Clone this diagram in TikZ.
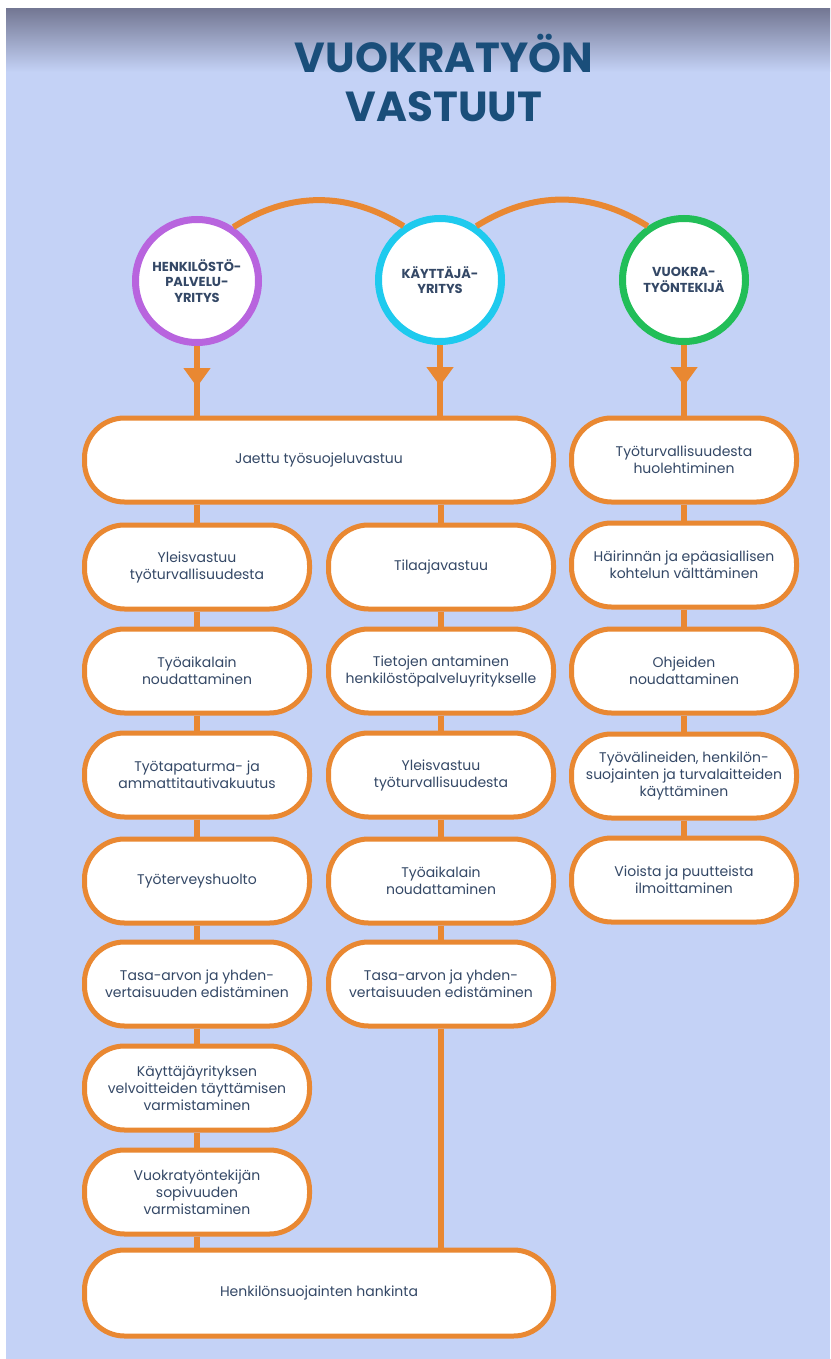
\documentclass[tikz,border=0pt]{standalone}
\usepackage{fontspec}
\setmainfont{Poppins}
\usetikzlibrary{arrows.meta, decorations.markings}

\definecolor{bgblue}{RGB}{196,210,246}
\definecolor{topgray}{RGB}{116,120,148}
\definecolor{linkorange}{RGB}{233,136,50}
\definecolor{titleblue}{RGB}{26,78,122}
\definecolor{textblue}{RGB}{52,72,102}
\definecolor{hpyviolet}{RGB}{184,100,222}
\definecolor{kaycyan}{RGB}{30,202,238}
\definecolor{vtkgreen}{RGB}{34,190,88}

\tikzset{
  box/.style={draw=linkorange, line width=5pt, fill=white, rounded corners=40pt,
    minimum width=225pt, minimum height=84pt, inner sep=2pt, align=center,
    text=textblue, font=\fontsize{14}{17}\selectfont},
  party/.style={circle, line width=7pt, fill=white, minimum size=123pt, inner sep=0pt,
    align=center, text=textblue, font=\fontsize{13}{15.5}\selectfont\bfseries},
  link/.style={linkorange, line width=6pt},
  drop/.style={link, postaction=decorate, decoration={markings,
    mark=at position 41pt with {\arrow{Triangle[width=26pt, length=19pt]}}}},
}

\begin{document}
\begin{tikzpicture}[x=1pt, y=-1pt]
    \useasboundingbox (0,0) rectangle (830,1359);
    \fill[white] (0,0) rectangle (830,1359);
    \fill[bgblue] (6,9) rectangle (830,1359);
    \shade[top color=topgray, bottom color=bgblue] (6,9) rectangle (830,72);

    \node[font=\fontsize{42}{49}\selectfont\bfseries, text=titleblue, align=center] (title) at (444,78) {VUOKRATYÖN\\VASTUUT};

    % osapuolet
    \node[party, draw=hpyviolet] (hpy) at (197,281) {HENKILÖSTÖ-\\PALVELU-\\YRITYS};
    \node[party, draw=kaycyan] (kay) at (440,280) {KÄYTTÄJÄ-\\YRITYS};
    \node[party, draw=vtkgreen] (vtk) at (684,280) {VUOKRA-\\TYÖNTEKIJÄ};

    % yhteiset vastuut
    \node[box, minimum width=469pt] (jaettu) at (319,460) {Jaettu työsuojeluvastuu};
    \node[box, minimum width=469pt, minimum height=86pt] (hank) at (319,1293) {Henkilönsuojainten hankinta};

    % henkilöstöpalveluyritys
    \foreach \y/\txt [count=\i] in {567/{Yleisvastuu\\työturvallisuudesta}, 671/{Työaikalain\\noudattaminen},
        775/{Työtapaturma- ja\\ammattitautivakuutus}, 881/{Työterveyshuolto},
        984/{Tasa-arvon ja yhden-\\vertaisuuden edistäminen},
        1088/{Käyttäjäyrityksen\\velvoitteiden täyttämisen\\varmistaminen},
        1192/{Vuokratyöntekijän\\sopivuuden\\varmistaminen}} {
        \node[box] (l\i) at (197,\y) {\txt};
    };

    % käyttäjäyritys
    \foreach \y/\txt [count=\i] in {567/{Tilaajavastuu}, 671/{Tietojen antaminen\\henkilöstöpalveluyritykselle},
        775/{Yleisvastuu\\työturvallisuudesta}, 881/{Työaikalain\\noudattaminen},
        984/{Tasa-arvon ja yhden-\\vertaisuuden edistäminen}} {
        \node[box] (m\i) at (441,\y) {\txt};
    };

    % vuokratyöntekijä
    \foreach \y/\txt [count=\i] in {460/{Työturvallisuudesta\\huolehtiminen},
        565/{Häirinnän ja epäasiallisen\\kohtelun välttäminen}, 671/{Ohjeiden\\noudattaminen},
        776/{Työvälineiden, henkilön-\\suojainten ja turvalaitteiden\\käyttäminen},
        880/{Vioista ja puutteista\\ilmoittaminen}} {
        \node[box] (r\i) at (684,\y) {\txt};
    };

    % yhteydet
    \draw[link] (hpy.56) to[bend left=32] (kay.124);
    \draw[link] (kay.56) to[bend left=32] (vtk.124);

    \draw[drop] (hpy.south) -- (hpy.south |- jaettu.north);
    \draw[drop] (kay.south) -- (kay.south |- jaettu.north);
    \draw[drop] (vtk.south) -- (r1.north);

    \draw[link] (l1.north |- jaettu.south) -- (l1.north);
    \draw[link] (m1.north |- jaettu.south) -- (m1.north);
    \foreach \i/\j in {1/2, 2/3, 3/4, 4/5, 5/6, 6/7} {
        \draw[link] (l\i) -- (l\j);
    };
    \foreach \i/\j in {1/2, 2/3, 3/4, 4/5} {
        \draw[link] (m\i) -- (m\j);
        \draw[link] (r\i) -- (r\j);
    };
    \draw[link] (l7.south) -- (l7.south |- hank.north);
    \draw[link] (m5.south) -- (m5.south |- hank.north);
\end{tikzpicture}
\end{document}
